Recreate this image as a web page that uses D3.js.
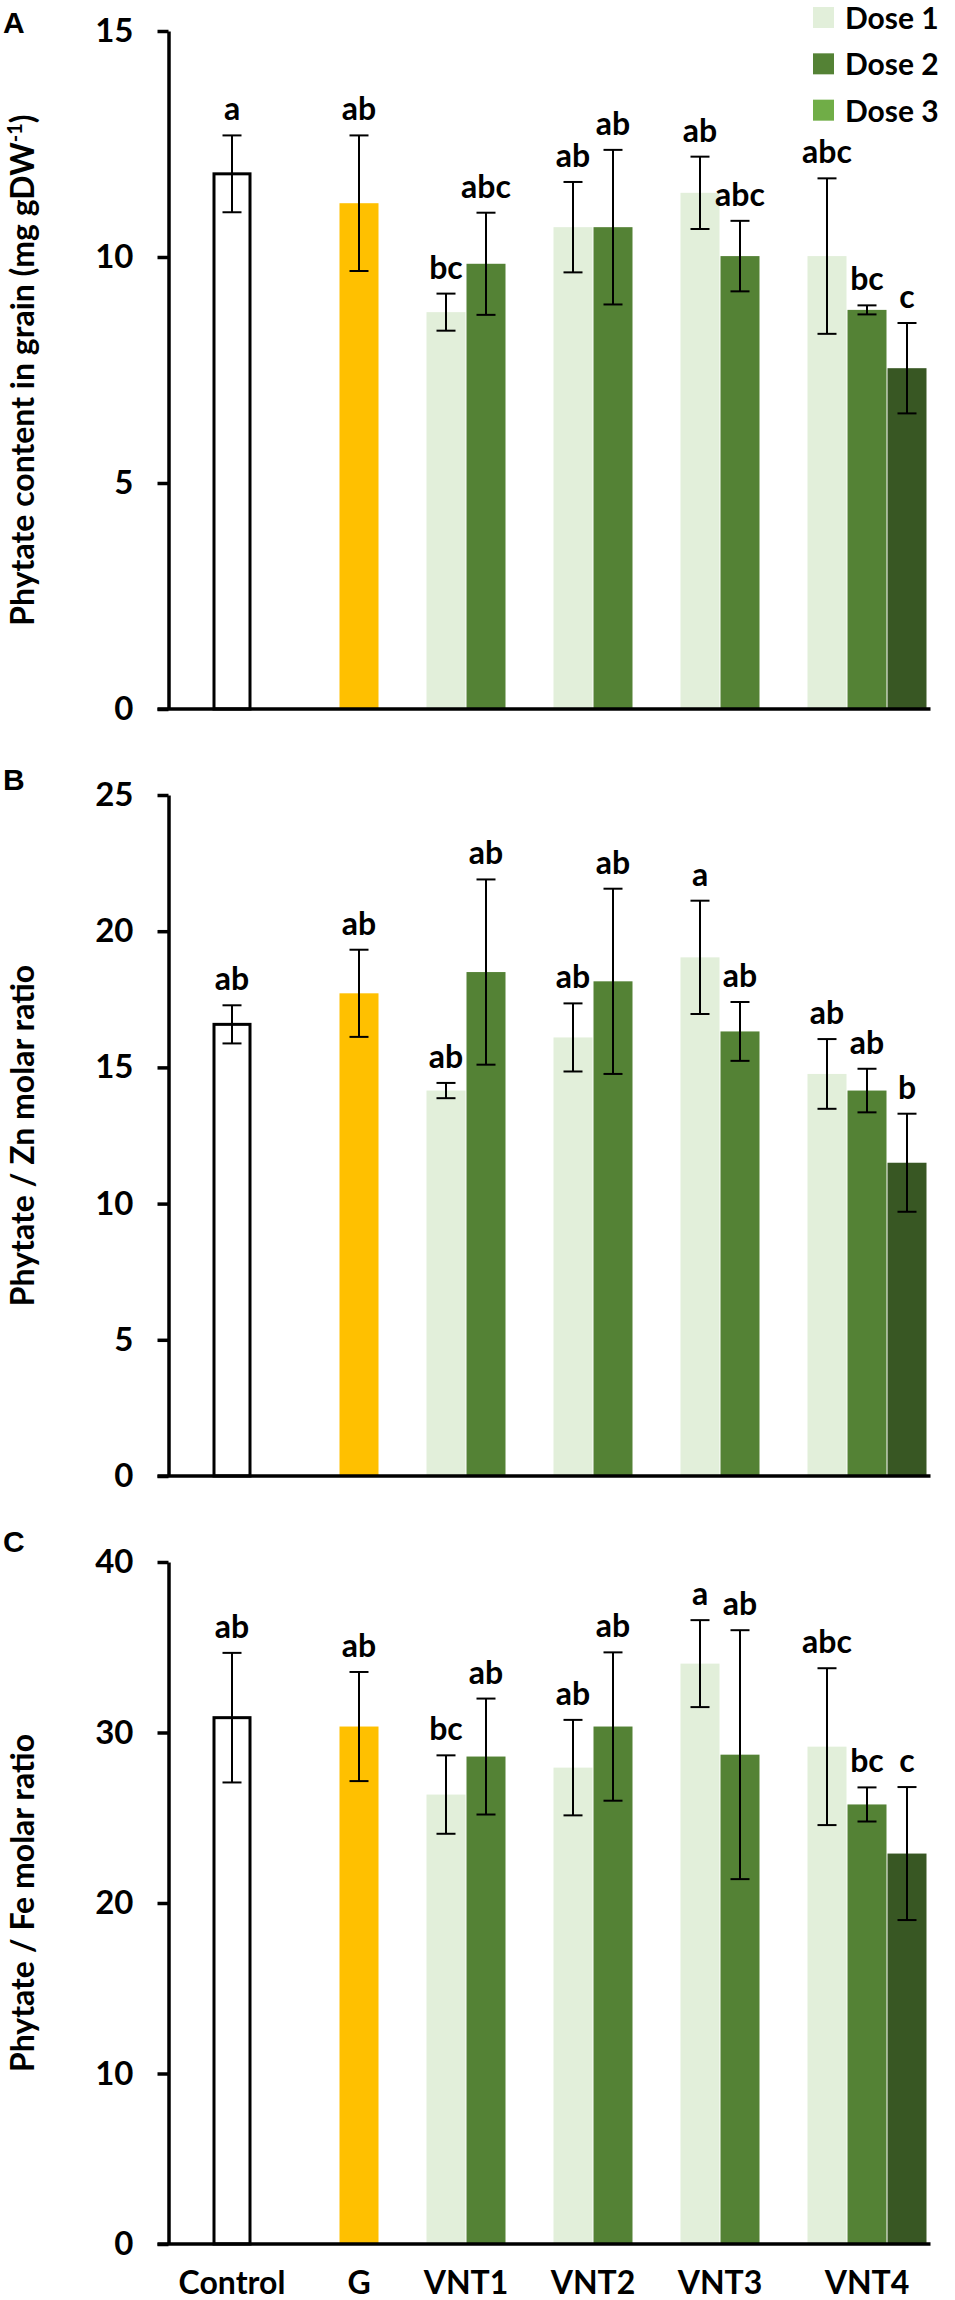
<!DOCTYPE html>
<html lang="en">
  <head>
    <meta charset="UTF-8" />
    <title>phytate in grain</title>
    <script src="https://d3js.org/d3.v7.min.js"></script>
    <style>
      body {
        margin: 0;
        background: #fff;
      }
      svg {
        display: block;
      }
      text {
        font-family: Lato, "Open Sans", sans-serif;
        font-weight: 700;
        fill: #000;
      }
      .axis path,
      .axis line {
        stroke: #000;
        stroke-width: 3.5;
      }
      .axis .tick text {
        font-size: 33px;
      }
      .err {
        stroke: #000;
        stroke-width: 2;
      }
      .letter {
        font-size: 32px;
      }
      .title {
        font-size: 32px;
      }
      .panel-letter {
        font-family: "Liberation Sans", Arial, sans-serif;
        font-size: 30px;
      }
      .legend text {
        font-size: 30px;
      }
      .cat text {
        font-size: 32px;
      }
    </style>
  </head>
  <body>
    <svg width="955" height="2300"></svg>

    <script>
      const groups = ["Control", "G", "VNT1", "VNT2", "VNT3", "VNT4"];
      const doses = ["Dose 1", "Dose 2", "Dose 3"];

      // A: phytate content in grain (mg gDW-1)
      const phytateMean = [[11.84], [11.19], [8.78, 9.85], [10.66, 10.66], [11.42, 10.02], [10.02, 8.83, 7.54]];
      const phytateErr = [[0.85], [1.5], [0.41, 1.13], [1.0, 1.71], [0.8, 0.78], [1.72, 0.1, 1.0]];
      const phytateLetters = [["a"], ["ab"], ["bc", "abc"], ["ab", "ab"], ["ab", "abc"], ["abc", "bc", "c"]];
      const phytateTicks = [0, 5, 10, 15];

      // B: phytate / Zn molar ratio
      const znMean = [[16.58], [17.72], [14.15, 18.5], [16.1, 18.16], [19.04, 16.32], [14.76, 14.15, 11.5]];
      const znErr = [[0.7], [1.6], [0.28, 3.4], [1.25, 3.4], [2.08, 1.08], [1.28, 0.8, 1.8]];
      const znLetters = [["ab"], ["ab"], ["ab", "ab"], ["ab", "ab"], ["a", "ab"], ["ab", "ab", "b"]];
      const znTicks = [0, 5, 10, 15, 20, 25];

      // C: phytate / Fe molar ratio
      const feMean = [[30.87], [30.35], [26.36, 28.59], [27.94, 30.35], [34.04, 28.7], [29.17, 25.78, 22.9]];
      const feErr = [[3.8], [3.2], [2.3, 3.4], [2.8, 4.35], [2.55, 7.3], [4.6, 1.0, 3.9]];
      const feLetters = [["ab"], ["ab"], ["bc", "ab"], ["ab", "ab"], ["a", "ab"], ["abc", "bc", "c"]];
      const feTicks = [0, 10, 20, 30, 40];

      const doseColors = ["#e2efda", "#548235", "#385723"];
      const legendColors = ["#e2efda", "#548235", "#70ad47"];
      const gColor = "#ffc000";

      const svg = d3.select("svg");
      const axisX = 168.5;
      const plotRight = 930.5;

      const xScale = d3.scaleBand().domain(groups).range([axisX, plotRight]);
      const slotScale = d3
        .scaleBand()
        .domain([0, 1, 2])
        .range([0, xScale.bandwidth()])
        .paddingInner(0.025)
        .paddingOuter(0.1);

      const panels = [
        {
          letter: "A", mean: phytateMean, err: phytateErr, letters: phytateLetters, ticks: phytateTicks,
          top: 31, bottom: 709, letterY: 33,
          title: ["Phytate content in grain (mg gDW", "-1", ")"],
        },
        {
          letter: "B", mean: znMean, err: znErr, letters: znLetters, ticks: znTicks,
          top: 795, bottom: 1476, letterY: 790,
          title: ["Phytate / Zn molar ratio"],
        },
        {
          letter: "C", mean: feMean, err: feErr, letters: feLetters, ticks: feTicks,
          top: 1562, bottom: 2244, letterY: 1552,
          title: ["Phytate / Fe molar ratio"],
        },
      ];

      function flatten(p) {
        const out = [];
        groups.forEach(function (g, gi) {
          p.mean[gi].forEach(function (m, vi) {
            const single = p.mean[gi].length === 1;
            let fill = doseColors[vi];
            if (gi === 0) fill = "#fff";
            if (gi === 1) fill = gColor;
            out.push({
              group: g,
              slot: single ? 1 : vi,
              mean: m,
              err: p.err[gi][vi],
              label: p.letters[gi][vi],
              fill: fill,
              outline: gi === 0,
            });
          });
        });
        return out;
      }

      panels.forEach(function (p) {
        const yMax = d3.max(p.ticks);
        const yScale = d3.scaleLinear().domain([0, yMax]).range([p.bottom, p.top]);
        const data = flatten(p);
        const bw = slotScale.bandwidth();
        const cx = function (d) {
          return xScale(d.group) + slotScale(d.slot) + bw / 2;
        };

        const g = svg.append("g");

        g.selectAll(".bar")
          .data(data)
          .enter()
          .append("rect")
          .attr("class", "bar")
          .attr("x", function (d) {
            return xScale(d.group) + slotScale(d.slot) + (d.outline ? 1.5 : 0);
          })
          .attr("y", function (d) {
            return yScale(d.mean);
          })
          .attr("width", function (d) {
            return d.outline ? bw - 3 : bw;
          })
          .attr("height", function (d) {
            return yScale(0) - yScale(d.mean);
          })
          .attr("fill", function (d) {
            return d.fill;
          })
          .attr("stroke", function (d) {
            return d.outline ? "#000" : "none";
          })
          .attr("stroke-width", 3);

        // error bars
        const eb = g.selectAll(".eb").data(data).enter().append("g").attr("class", "err");
        eb.append("line")
          .attr("x1", cx)
          .attr("x2", cx)
          .attr("y1", function (d) {
            return yScale(d.mean + d.err);
          })
          .attr("y2", function (d) {
            return yScale(d.mean - d.err);
          });
        [1, -1].forEach(function (s) {
          eb.append("line")
            .attr("x1", function (d) {
              return cx(d) - 9.5;
            })
            .attr("x2", function (d) {
              return cx(d) + 9.5;
            })
            .attr("y1", function (d) {
              return yScale(d.mean + s * d.err);
            })
            .attr("y2", function (d) {
              return yScale(d.mean + s * d.err);
            });
        });

        g.selectAll(".letter")
          .data(data)
          .enter()
          .append("text")
          .attr("class", "letter")
          .attr("x", cx)
          .attr("y", function (d) {
            return yScale(d.mean + d.err) - 15;
          })
          .attr("text-anchor", "middle")
          .text(function (d) {
            return d.label;
          });

        // axes
        const yAxis = d3
          .axisLeft(yScale)
          .tickValues(p.ticks)
          .tickSize(11)
          .tickSizeOuter(0)
          .tickPadding(24);
        g.append("g")
          .attr("class", "axis")
          .attr("transform", "translate(" + axisX + ",0)")
          .call(yAxis)
          .attr("font-size", null)
          .attr("font-family", null);

        g.append("line")
          .attr("class", "axis")
          .attr("x1", axisX - 11)
          .attr("x2", plotRight)
          .attr("y1", yScale(0))
          .attr("y2", yScale(0))
          .attr("stroke", "#000")
          .attr("stroke-width", 3.5);

        const title = g
          .append("text")
          .attr("class", "title")
          .attr("text-anchor", "middle")
          .attr("transform", "translate(34," + (p.top + p.bottom) / 2 + ") rotate(-90)");
        title.append("tspan").text(p.title[0]);
        if (p.title.length > 1) {
          title.append("tspan").attr("dy", -12).attr("font-size", 20).text(p.title[1]);
          title.append("tspan").attr("dy", 12).text(p.title[2]);
        }

        g.append("text")
          .attr("class", "panel-letter")
          .attr("x", 3)
          .attr("y", p.letterY)
          .text(p.letter);
      });

      // category labels under the last panel, centred on the drawn bars
      const cat = svg.append("g").attr("class", "cat");
      groups.forEach(function (gname, gi) {
        const n = phytateMean[gi].length;
        const first = n === 1 ? 1 : 0;
        const last = n === 1 ? 1 : n - 1;
        const left = xScale(gname) + slotScale(first);
        const right = xScale(gname) + slotScale(last) + slotScale.bandwidth();
        cat.append("text")
          .attr("x", (left + right) / 2)
          .attr("y", 2294)
          .attr("text-anchor", "middle")
          .text(gname);
      });

      // legend
      const legend = svg.append("g").attr("class", "legend");
      const legendY = d3.scaleBand().domain(doses).range([7, 146]);
      legend
        .selectAll("rect")
        .data(doses)
        .enter()
        .append("rect")
        .attr("x", 813)
        .attr("y", function (d) {
          return legendY(d);
        })
        .attr("width", 21)
        .attr("height", 21)
        .attr("fill", function (d, i) {
          return legendColors[i];
        });
      legend
        .selectAll("text")
        .data(doses)
        .enter()
        .append("text")
        .attr("x", 845)
        .attr("y", function (d) {
          return legendY(d) + 22;
        })
        .text(function (d) {
          return d;
        });
    </script>
  </body>
</html>
